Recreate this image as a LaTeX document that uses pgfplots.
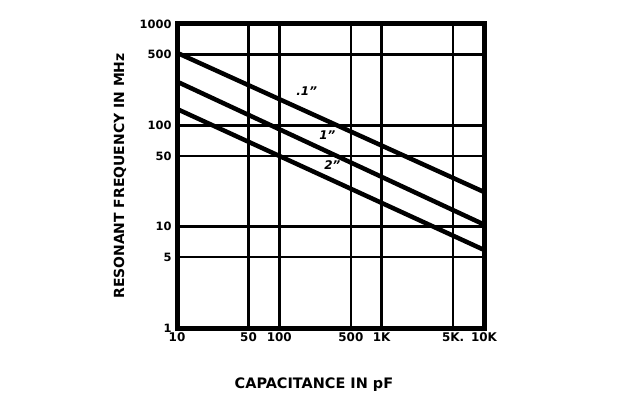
\documentclass[border=0pt]{standalone}
\usepackage{pgfplots}
\pgfplotsset{compat=1.18}
\usepackage{fontspec}
\setmainfont{DejaVu Sans}
\begin{document}
\begin{tikzpicture}
\path[use as bounding box, fill=white] (-177bp,-88bp) rectangle (457bp,328bp);
\begin{axis}[
  at={(0,0)}, anchor=south west,
  scale only axis, width=307bp, height=304bp,
  xmode=log, ymode=log,
  xmin=10, xmax=10000, ymin=1, ymax=1000,
  xtick={10,50,100,500,1000,5000,10000},
  xticklabels={10,50,100,500,1K,5K.,10K},
  ytick={1,5,10,50,100,500,1000},
  yticklabels={1,5,10,50,100,500,1000},
  minor xtick={}, minor ytick={},
  major tick length=0pt,
  grid=major,
  grid style={black, line width=2.5bp},
  axis line style={line width=5bp},
  xticklabel style={font=\bfseries\fontsize{12}{13}\selectfont, yshift=-1bp},
  yticklabel style={font=\bfseries\fontsize{11.5}{13}\selectfont, xshift=-2bp},
  clip=false,
]
\addplot[black, line width=4.5bp] coordinates {(10,520) (10000,22)};
\addplot[black, line width=4.5bp] coordinates {(10,270) (10000,10.5)};
\addplot[black, line width=4.5bp] coordinates {(10,145) (10000,5.9)};
\node[inner sep=0pt, font=\bfseries\itshape\fontsize{12}{13}\selectfont] at (axis cs:185,218) {.1"};
\node[inner sep=0pt, font=\bfseries\itshape\fontsize{12}{13}\selectfont] at (axis cs:295,80) {1"};
\node[inner sep=0pt, font=\bfseries\itshape\fontsize{12}{13}\selectfont] at (axis cs:330,41) {2"};
\node[rotate=90, font=\bfseries\fontsize{14}{15}\selectfont] at (axis description cs:-0.186,0.5) {RESONANT FREQUENCY IN MHz};
\node[font=\bfseries\fontsize{14.5}{15}\selectfont] at (axis description cs:0.446,-0.1875) {CAPACITANCE IN pF};
\end{axis}
\end{tikzpicture}
\end{document}
